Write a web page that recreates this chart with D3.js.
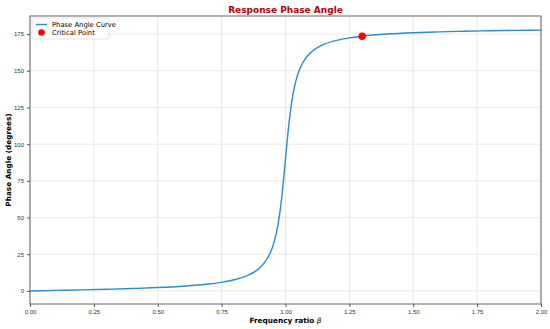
<!DOCTYPE html>
<html>
<head>
<meta charset="utf-8">
<script src="https://cdn.jsdelivr.net/npm/d3@7"></script>
<style>
  body { margin: 0; background: #fff; }
  svg { font-family: "DejaVu Sans", sans-serif; }
</style>
</head>
<body>
<div id="chart"></div>
<script>
// Data
const beta = [0, 0.1, 0.2, 0.3, 0.4, 0.5, 0.6, 0.7, 0.75, 0.8, 0.85, 0.88, 0.9, 0.92,
  0.94, 0.95, 0.96, 0.97, 0.98, 0.99, 0.995, 1.0, 1.005, 1.01, 1.02, 1.03, 1.04, 1.05,
  1.06, 1.08, 1.1, 1.12, 1.15, 1.2, 1.25, 1.3, 1.4, 1.5, 1.6, 1.7, 1.8, 1.9, 2.0];
const phase = [0, 0.35, 0.72, 1.13, 1.64, 2.29, 3.22, 4.71, 5.87, 7.59, 10.41, 13.17, 15.87,
  19.77, 25.85, 30.31, 36.3, 44.56, 56.04, 71.48, 80.51, 90, 99.44, 108.35, 123.43, 134.58,
  142.6, 148.43, 152.77, 158.72, 162.55, 165.2, 167.92, 170.71, 172.41, 173.55, 175.0,
  175.88, 176.48, 176.91, 177.24, 177.5, 177.71];
const critical = { beta: 1.3, phase: 173.55 };
const xTicks = [0, 0.25, 0.5, 0.75, 1.0, 1.25, 1.5, 1.75, 2.0];
const yTicks = [0, 25, 50, 75, 100, 125, 150, 175];

const W = 550, H = 329;
const margin = { top: 16, right: 9, bottom: 25, left: 30 };
const width = W - margin.left - margin.right;
const height = H - margin.top - margin.bottom;

const svg = d3.select("#chart").append("svg")
  .attr("width", W).attr("height", H);

const g = svg.append("g")
  .attr("transform", `translate(${margin.left},${margin.top})`);

const x = d3.scaleLinear().domain([0, 2]).range([0, width]);
const y = d3.scaleLinear().domain([-8.9, 187.3]).range([height, 0]);

// Grid
g.append("g").selectAll("line").data(xTicks).join("line")
  .attr("x1", d => x(d)).attr("x2", d => x(d))
  .attr("y1", 0).attr("y2", height)
  .attr("stroke", "#e3e3e3").attr("stroke-width", 0.8);
g.append("g").selectAll("line").data(yTicks).join("line")
  .attr("x1", 0).attr("x2", width)
  .attr("y1", d => y(d)).attr("y2", d => y(d))
  .attr("stroke", "#e3e3e3").attr("stroke-width", 0.8);

// Curve
const pts = beta.map((b, i) => [b, phase[i]]);
g.append("path")
  .datum(pts)
  .attr("fill", "none")
  .attr("stroke", "#2a8dc8")
  .attr("stroke-width", 1.4)
  .attr("d", d3.line().x(d => x(d[0])).y(d => y(d[1])).curve(d3.curveMonotoneX));

// Critical point
g.append("circle")
  .attr("cx", x(critical.beta)).attr("cy", y(critical.phase))
  .attr("r", 3.8).attr("fill", "#ff0000");

// Axes
const xAxis = g.append("g")
  .attr("transform", `translate(0,${height})`)
  .call(d3.axisBottom(x).tickValues(xTicks).tickFormat(d3.format(".2f")).tickSize(3).tickPadding(2.5));
const yAxis = g.append("g")
  .call(d3.axisLeft(y).tickValues(yTicks).tickSize(3).tickPadding(3));
[xAxis, yAxis].forEach(a => {
  a.selectAll("text").style("font-size", "6px").attr("fill", "#333");
  a.selectAll("line").attr("stroke", "#555");
  a.select(".domain").remove();
});

// Frame
g.append("rect")
  .attr("width", width).attr("height", height)
  .attr("fill", "none").attr("stroke", "#555").attr("stroke-width", 0.9);

// Title
svg.append("text")
  .attr("x", margin.left + width / 2).attr("y", 13)
  .attr("text-anchor", "middle")
  .style("font-size", "9px").style("font-weight", "bold")
  .attr("fill", "#b30000")
  .text("Response Phase Angle");

// Axis labels
const xl = svg.append("text")
  .attr("x", margin.left + width / 2).attr("y", 323)
  .attr("text-anchor", "middle")
  .style("font-size", "7.3px").style("font-weight", "bold")
  .text("Frequency ratio ");
xl.append("tspan").style("font-style", "italic").style("font-weight", "normal").text("β");

svg.append("text")
  .attr("transform", "rotate(-90)")
  .attr("x", -(margin.top + height / 2)).attr("y", 11)
  .attr("text-anchor", "middle")
  .style("font-size", "7.3px").style("font-weight", "bold")
  .text("Phase Angle (degrees)");

// Legend
const legend = g.append("g").attr("transform", "translate(2,2)");
legend.append("rect")
  .attr("width", 77).attr("height", 21).attr("rx", 2)
  .attr("fill", "#fff").attr("fill-opacity", 0.8)
  .attr("stroke", "#ddd").attr("stroke-width", 0.8);
legend.append("line")
  .attr("x1", 4).attr("x2", 15).attr("y1", 6.5).attr("y2", 6.5)
  .attr("stroke", "#2a8dc8").attr("stroke-width", 1.4);
legend.append("circle")
  .attr("cx", 9.5).attr("cy", 14.5).attr("r", 3.3).attr("fill", "#ff0000");
legend.append("text").attr("x", 20).attr("y", 9)
  .style("font-size", "6.8px").text("Phase Angle Curve");
legend.append("text").attr("x", 20).attr("y", 17)
  .style("font-size", "6.8px").text("Critical Point");
</script>
</body>
</html>
